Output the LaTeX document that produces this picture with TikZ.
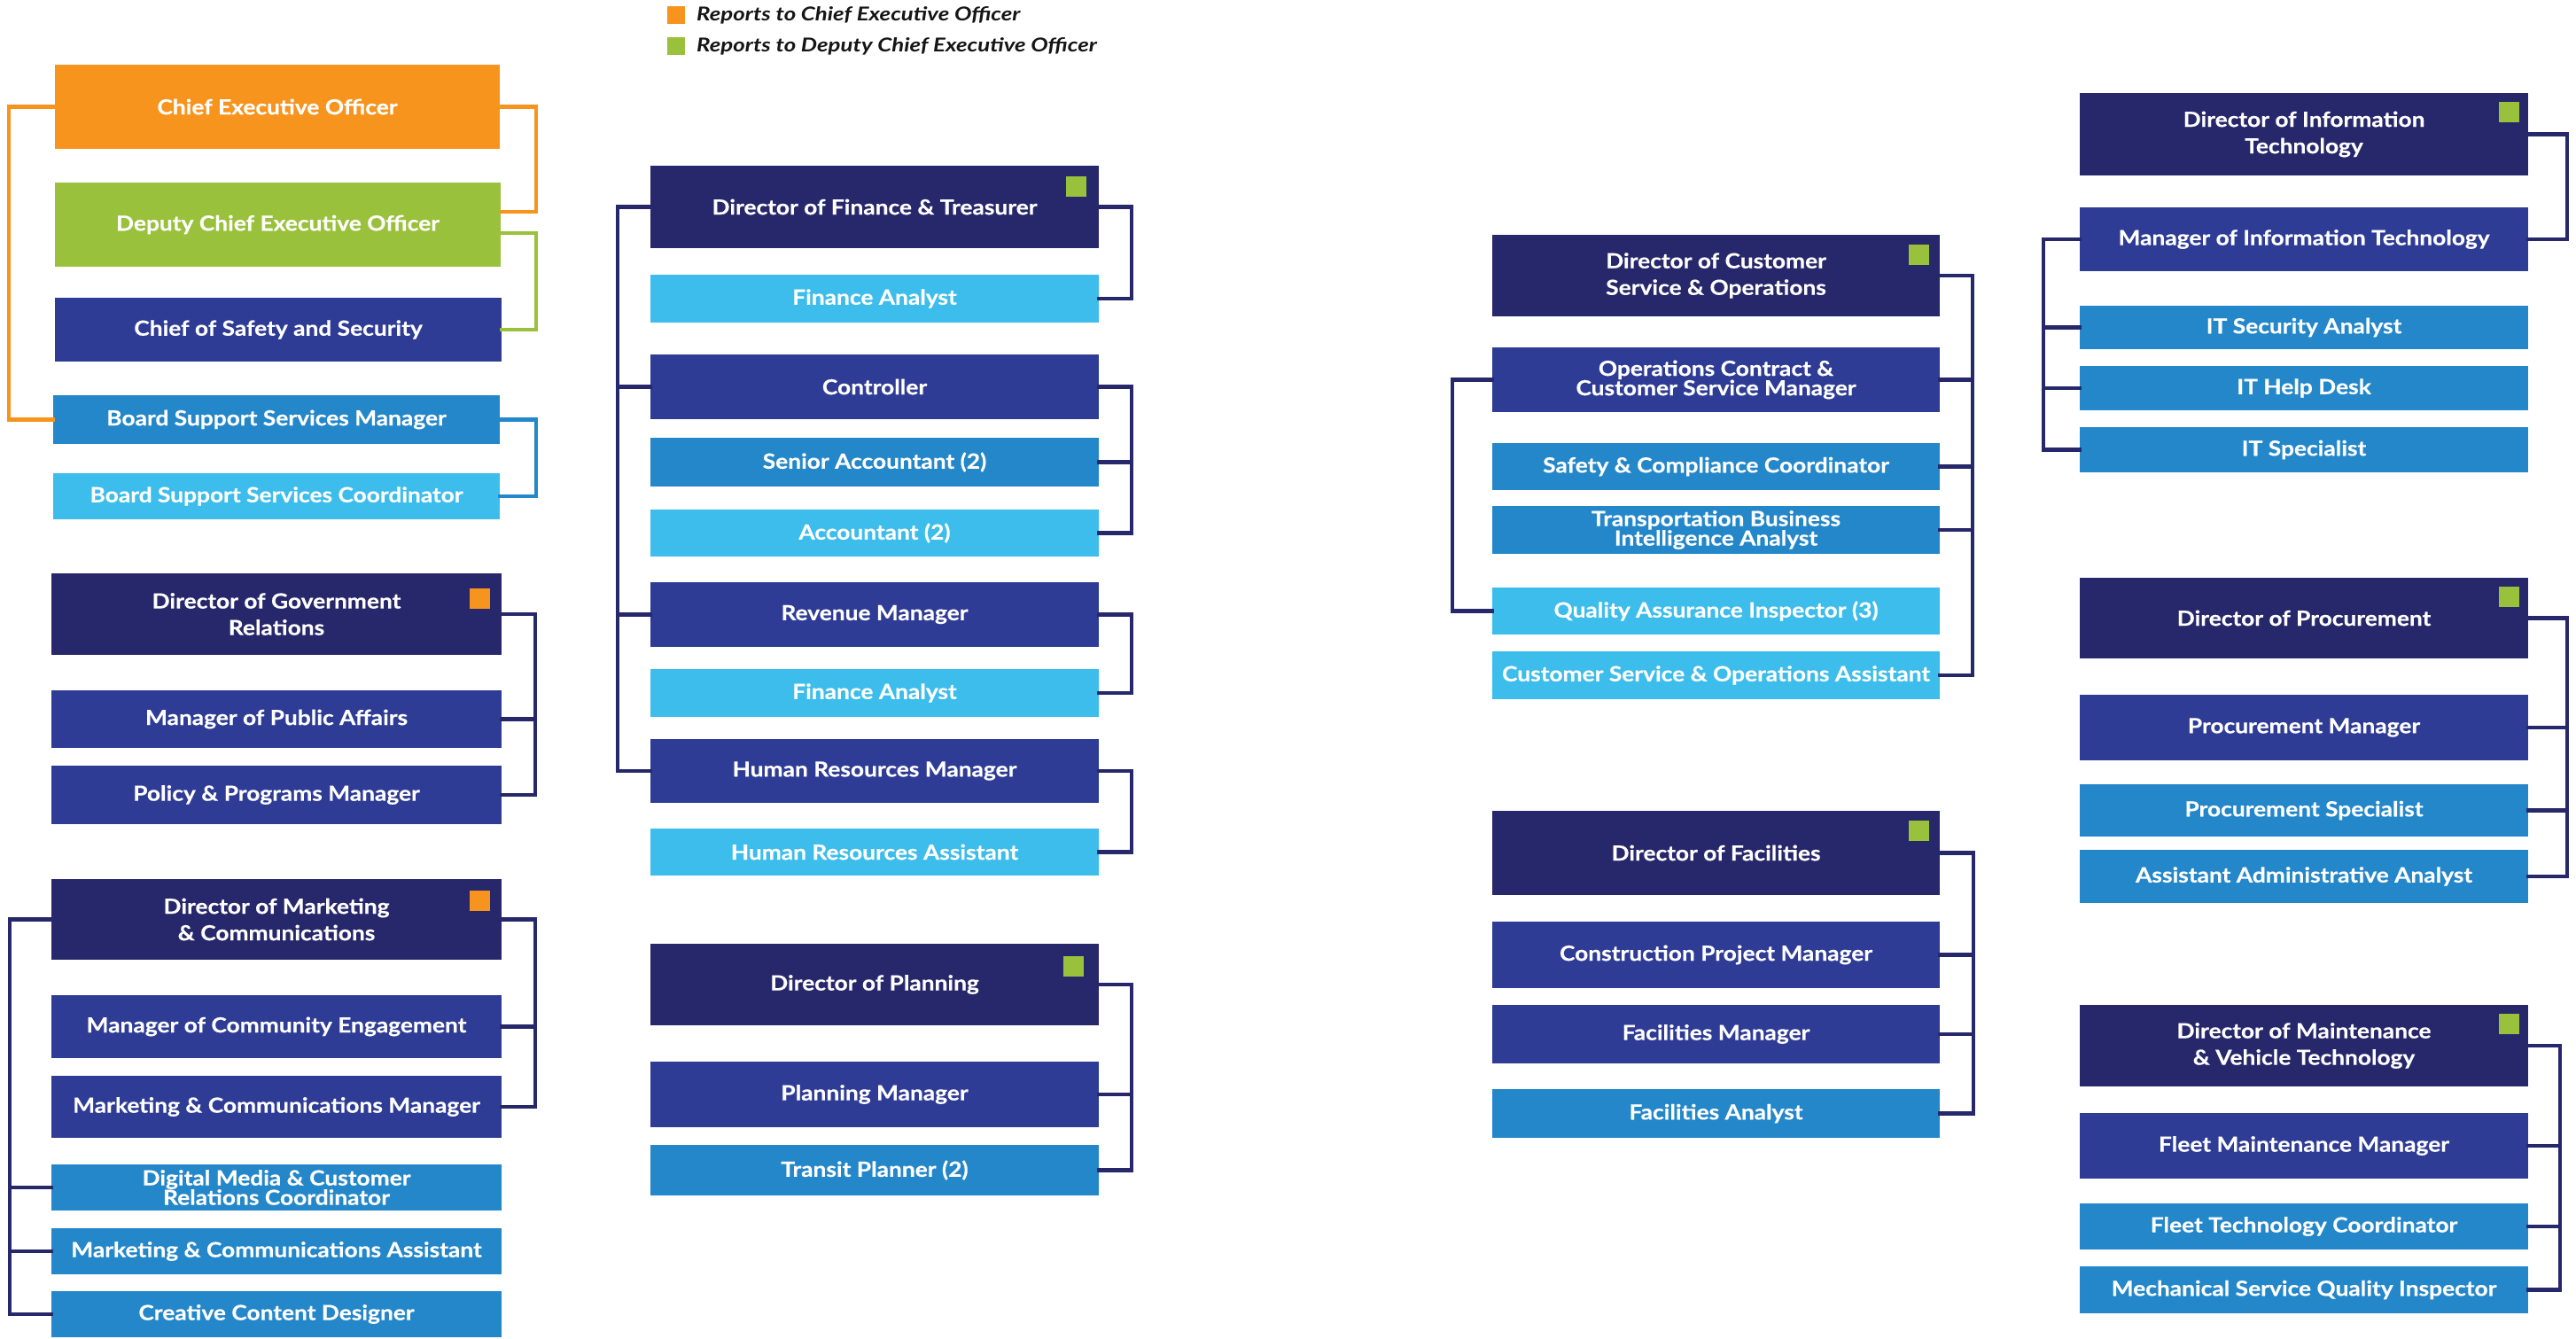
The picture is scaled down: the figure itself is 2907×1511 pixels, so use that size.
\documentclass[tikz,border=0pt]{standalone}
\usepackage{fontspec}
\setmainfont{Lato}[BoldFeatures={FakeStretch=1.12,FakeBold=0.4}, BoldItalicFeatures={FakeStretch=1.2}]
\definecolor{orgC}{HTML}{F7941E}
\definecolor{grnC}{HTML}{9AC13C}
\definecolor{navC}{HTML}{27276B}
\definecolor{medC}{HTML}{2E3C96}
\definecolor{bluC}{HTML}{2387CA}
\definecolor{ltC}{HTML}{3CBDEB}
\definecolor{legC}{HTML}{151515}
\tikzset{
  box/.style={rectangle, inner sep=0pt, outer sep=0pt, anchor=north west,
    text=white, align=center, font=\bfseries\fontsize{23.5}{30}\selectfont},
  tightbox/.style={font=\bfseries\fontsize{23.5}{22}\selectfont},
  sqmark/.style={rectangle, inner sep=0pt, outer sep=0pt, anchor=north east, minimum size=23pt},
  legsq/.style={rectangle, inner sep=0pt, outer sep=0pt, anchor=north west, minimum size=20pt},
  conn/.style={draw=navC, line width=4.5pt, line join=miter, line cap=rect},
  orgconn/.style={conn, draw=orgC},
  grnconn/.style={conn, draw=grnC},
  bluconn/.style={conn, draw=bluC},
  legtxt/.style={anchor=base west, inner sep=0pt, text=legC, font=\bfseries\itshape\fontsize{21.5}{24}\selectfont}
}
\newcommand{\bxx}[8][]{%
  \node[box, #1, fill=#7, minimum width={(#5-#3)*1pt}, minimum height={(#6-#4)*1pt}] (#2) at (#3,#4) {#8};}
\begin{document}
\begin{tikzpicture}[x=1pt,y=-1pt]
\useasboundingbox (0,0) rectangle (2907,1511);
\fill[white] (0,0) rectangle (2907,1511);

% legend
\node[legsq, fill=orgC] (lego) at (753,7) {};
\node[legsq, fill=grnC] (legg) at (753,42) {};
\node[legtxt] (legot) at (786,24) {Reports to Chief Executive Officer};
\node[legtxt] (leggt) at (786,59) {Reports to Deputy Chief Executive Officer};

% column A
\bxx{ceo}{62}{73}{564}{168}{orgC}{Chief Executive Officer}
\bxx{dceo}{62}{206}{565}{301}{grnC}{Deputy Chief Executive Officer}
\bxx{css}{62}{336}{566}{408}{medC}{Chief of Safety and Security}
\bxx{bssm}{60}{446}{564}{501}{bluC}{Board Support Services Manager}
\bxx{bssc}{60}{534}{564}{586}{ltC}{Board Support Services Coordinator}
\bxx{dgr}{58}{647}{566}{739}{navC}{Director of Government\\Relations}
\bxx{mpa}{58}{779}{566}{844}{medC}{Manager of Public Affairs}
\bxx{ppm}{58}{864}{566}{930}{medC}{Policy \& Programs Manager}
\bxx{dmc}{58}{992}{566}{1083}{navC}{Director of Marketing\\\& Communications}
\bxx{mce}{58}{1123}{566}{1194}{medC}{Manager of Community Engagement}
\bxx{mcm}{58}{1214}{566}{1284}{medC}{Marketing \& Communications Manager}
\bxx[tightbox]{dmcr}{58}{1314}{566}{1366}{bluC}{Digital Media \& Customer\\Relations Coordinator}
\bxx{mca}{58}{1386}{566}{1438}{bluC}{Marketing \& Communications Assistant}
\bxx{ccd}{58}{1457}{566}{1509}{bluC}{Creative Content Designer}

% column B
\bxx{dft}{734}{187}{1240}{280}{navC}{Director of Finance \& Treasurer}
\bxx{fa1}{734}{310}{1240}{364}{ltC}{Finance Analyst}
\bxx{ctrl}{734}{400}{1240}{473}{medC}{Controller}
\bxx{sa}{734}{494}{1240}{549}{bluC}{Senior Accountant (2)}
\bxx{acc}{734}{575}{1240}{628}{ltC}{Accountant (2)}
\bxx{rm}{734}{657}{1240}{730}{medC}{Revenue Manager}
\bxx{fa2}{734}{755}{1240}{809}{ltC}{Finance Analyst}
\bxx{hrm}{734}{834}{1240}{906}{medC}{Human Resources Manager}
\bxx{hra}{734}{935}{1240}{988}{ltC}{Human Resources Assistant}
\bxx{dp}{734}{1065}{1240}{1157}{navC}{Director of Planning}
\bxx{pm}{734}{1198}{1240}{1272}{medC}{Planning Manager}
\bxx{tp}{734}{1292}{1240}{1349}{bluC}{Transit Planner (2)}

% column C
\bxx{dcso}{1684}{265}{2189}{357}{navC}{Director of Customer\\Service \& Operations}
\bxx[tightbox]{occsm}{1684}{392}{2189}{465}{medC}{Operations Contract \&\\Customer Service Manager}
\bxx{scc}{1684}{500}{2189}{553}{bluC}{Safety \& Compliance Coordinator}
\bxx[tightbox]{tbia}{1684}{571}{2189}{625}{bluC}{Transportation Business\\Intelligence Analyst}
\bxx{qai}{1684}{663}{2189}{716}{ltC}{Quality Assurance Inspector (3)}
\bxx{csoa}{1684}{735}{2189}{789}{ltC}{Customer Service \& Operations Assistant}
\bxx{dfac}{1684}{915}{2189}{1010}{navC}{Director of Facilities}
\bxx{cpm}{1684}{1040}{2189}{1115}{medC}{Construction Project Manager}
\bxx{fm}{1684}{1134}{2189}{1200}{medC}{Facilities Manager}
\bxx{fan}{1684}{1229}{2189}{1284}{bluC}{Facilities Analyst}

% column D
\bxx{dit}{2347}{105}{2853}{198}{navC}{Director of Information\\Technology}
\bxx{mit}{2347}{234}{2853}{306}{medC}{Manager of Information Technology}
\bxx{itsa}{2347}{345}{2853}{394}{bluC}{IT Security Analyst}
\bxx{ithd}{2347}{413}{2853}{463}{bluC}{IT Help Desk}
\bxx{itsp}{2347}{482}{2853}{533}{bluC}{IT Specialist}
\bxx{dproc}{2347}{652}{2853}{743}{navC}{Director of Procurement}
\bxx{procm}{2347}{784}{2853}{858}{medC}{Procurement Manager}
\bxx{procs}{2347}{885}{2853}{944}{bluC}{Procurement Specialist}
\bxx{aaa}{2347}{959}{2853}{1019}{bluC}{Assistant Administrative Analyst}
\bxx{dmvt}{2347}{1134}{2853}{1226}{navC}{Director of Maintenance\\\& Vehicle Technology}
\bxx{fmm}{2347}{1256}{2853}{1330}{medC}{Fleet Maintenance Manager}
\bxx{ftc}{2347}{1358}{2853}{1410}{bluC}{Fleet Technology Coordinator}
\bxx{msqi}{2347}{1429}{2853}{1482}{bluC}{Mechanical Service Quality Inspector}

% report markers
\node[sqmark, fill=orgC] (dgr-m) at ([xshift=-13pt,yshift=-17pt]dgr.north east) {};
\node[sqmark, fill=orgC] (dmc-m) at ([xshift=-13pt,yshift=-13pt]dmc.north east) {};
\node[sqmark, fill=grnC] (dft-m) at ([xshift=-14pt,yshift=-12pt]dft.north east) {};
\node[sqmark, fill=grnC] (dp-m) at ([xshift=-17pt,yshift=-14pt]dp.north east) {};
\node[sqmark, fill=grnC] (dcso-m) at ([xshift=-12pt,yshift=-11pt]dcso.north east) {};
\node[sqmark, fill=grnC] (dfac-m) at ([xshift=-12pt,yshift=-11pt]dfac.north east) {};
\node[sqmark, fill=grnC] (dit-m) at ([xshift=-10pt,yshift=-10pt]dit.north east) {};
\node[sqmark, fill=grnC] (dproc-m) at ([xshift=-10pt,yshift=-10pt]dproc.north east) {};
\node[sqmark, fill=grnC] (dmvt-m) at ([xshift=-10pt,yshift=-10pt]dmvt.north east) {};

% connectors column A
\draw[orgconn] (ceo.west) -- ++(-52,0) |- (bssm.west);
\draw[orgconn] (ceo.east) -- ++(41,0) |- ([yshift=14.5pt]dceo.east);
\draw[grnconn] ([yshift=-9.5pt]dceo.east) -- ++(40,0) |- (css.east);
\draw[bluconn] (bssm.east) -- ++(41,0) |- (bssc.east);
\draw[conn] (dgr.east) -- ++(38,0) |- (ppm.east);
\draw[conn] (mpa.east) -- ++(38,0);
\draw[conn] (dmc.east) -- ++(38,0) |- (mcm.east);
\draw[conn] (mce.east) -- ++(38,0);
\draw[conn] (dmc.west) -- ++(-47,0) |- (ccd.west);
\draw[conn] (dmcr.west) -- ++(-47,0);
\draw[conn] (mca.west) -- ++(-47,0);

% connectors column B
\draw[conn] (dft.west) -- ++(-37,0) |- (hrm.west);
\draw[conn] (ctrl.west) -- ++(-37,0);
\draw[conn] (rm.west) -- ++(-37,0);
\draw[conn] (dft.east) -- ++(37,0) |- (fa1.east);
\draw[conn] (ctrl.east) -- ++(37,0) |- (acc.east);
\draw[conn] (sa.east) -- ++(37,0);
\draw[conn] (rm.east) -- ++(37,0) |- (fa2.east);
\draw[conn] (hrm.east) -- ++(37,0) |- (hra.east);
\draw[conn] (dp.east) -- ++(37,0) |- (tp.east);
\draw[conn] (pm.east) -- ++(37,0);

% connectors column C
\draw[conn] (dcso.east) -- ++(37,0) |- (csoa.east);
\draw[conn] (occsm.east) -- ++(37,0);
\draw[conn] (scc.east) -- ++(37,0);
\draw[conn] (tbia.east) -- ++(37,0);
\draw[conn] (occsm.west) -- ++(-45,0) |- (qai.west);
\draw[conn] (dfac.east) -- ++(38,0) |- (fan.east);
\draw[conn] (cpm.east) -- ++(38,0);
\draw[conn] (fm.east) -- ++(38,0);

% connectors column D
\draw[conn] (dit.east) -- ++(44,0) |- (mit.east);
\draw[conn] (mit.west) -- ++(-41,0) |- (itsp.west);
\draw[conn] (itsa.west) -- ++(-41,0);
\draw[conn] (ithd.west) -- ++(-41,0);
\draw[conn] (dproc.east) -- ++(44,0) |- (aaa.east);
\draw[conn] (procm.east) -- ++(44,0);
\draw[conn] (procs.east) -- ++(44,0);
\draw[conn] (dmvt.east) -- ++(36,0) |- (msqi.east);
\draw[conn] (fmm.east) -- ++(36,0);
\draw[conn] (ftc.east) -- ++(36,0);
\end{tikzpicture}
\end{document}
